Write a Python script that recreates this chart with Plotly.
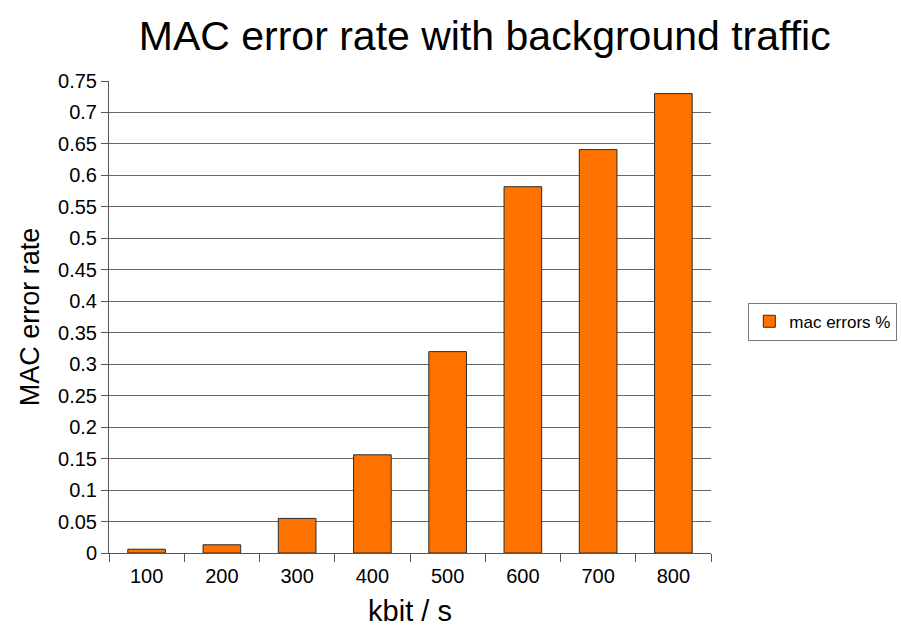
import plotly.graph_objects as go

# Background traffic rates (kbit/s) and measured MAC error rates
rates = ["100", "200", "300", "400", "500", "600", "700", "800"]
mac_errors = [0.006, 0.013, 0.055, 0.156, 0.32, 0.582, 0.641, 0.73]
y_ticks = [0, 0.05, 0.1, 0.15, 0.2, 0.25, 0.3, 0.35, 0.4, 0.45, 0.5,
           0.55, 0.6, 0.65, 0.7, 0.75]
y_tick_labels = ["0", "0.05", "0.1", "0.15", "0.2", "0.25", "0.3", "0.35",
                 "0.4", "0.45", "0.5", "0.55", "0.6", "0.65", "0.7", "0.75"]

font = "Liberation Sans, Arial, sans-serif"

fig = go.Figure(
    go.Bar(
        x=rates,
        y=mac_errors,
        name="mac errors %",
        marker=dict(color="#ff7200", line=dict(color="#2a2a2a", width=1)),
        width=0.5,
    )
)

fig.update_layout(
    width=901,
    height=635,
    margin=dict(l=109, r=190, t=81, b=82, autoexpand=False),
    paper_bgcolor="white",
    plot_bgcolor="white",
    font=dict(family=font, color="#000000"),
    title=dict(
        text="MAC error rate with background traffic",
        x=0.538, xanchor="center", y=0.944, yanchor="middle",
        font=dict(size=41, family=font, color="#000000"),
    ),
    showlegend=True,
    legend=dict(
        x=1.062, xanchor="left", y=0.49, yanchor="middle",
        bgcolor="white", bordercolor="#7a7a7a", borderwidth=1,
        font=dict(size=17, family=font, color="#000000"),
        itemwidth=30,
    ),
    bargap=0.5,
)

fig.update_xaxes(
    type="category",
    title=dict(text="kbit / s", font=dict(size=29, family=font), standoff=14),
    tickfont=dict(size=20, family=font),
    ticks="outside", tickson="boundaries", ticklen=8, tickcolor="#555555",
    ticklabelstandoff=5,
    showline=True, linecolor="#555555", linewidth=1,
    showgrid=False,
)

fig.update_yaxes(
    range=[0, 0.75],
    tickmode="array", tickvals=y_ticks, ticktext=y_tick_labels,
    title=dict(text="MAC error rate", font=dict(size=27, family=font), standoff=10),
    tickfont=dict(size=20, family=font),
    ticks="outside", ticklen=7, tickcolor="#555555",
    showline=True, linecolor="#555555", linewidth=1,
    showgrid=True, gridcolor="#666666", gridwidth=1,
    zeroline=False,
)

fig.write_html("out.html")
